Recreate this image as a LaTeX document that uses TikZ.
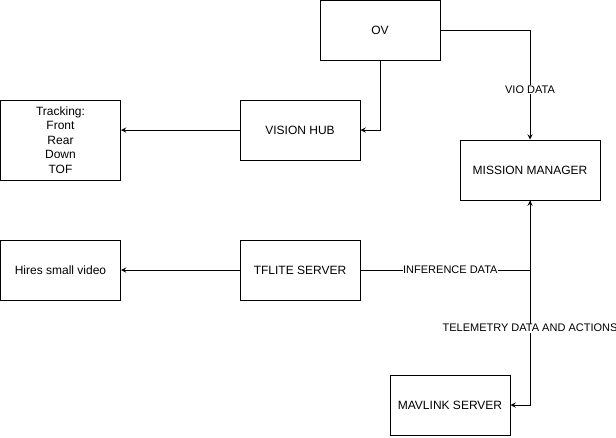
\documentclass[tikz,border=0pt]{standalone}
\usepackage{fontspec}
\setmainfont{Liberation Sans}
\begin{document}
\begin{tikzpicture}[x=0.75pt,y=-0.75pt,line width=0.75pt,
  box/.style={draw,minimum width=90pt,minimum height=45pt,inner sep=0pt,align=center,font=\fontsize{9}{10.9}\selectfont},
  lbl/.style={fill=white,inner sep=0.5pt,font=\fontsize{8.25}{10}\selectfont}]
  \useasboundingbox (0,0) rectangle (616,437);
  \node[box] (ov) at (380,30) {OV};
  \node[box] (hub) at (300,130) {VISION HUB};
  \node[box,minimum height=60pt] (track) at (60.5,140) {Tracking:\\Front\\Rear\\Down\\TOF};
  \node[box,minimum width=105pt] (mm) at (530,170) {MISSION MANAGER};
  \node[box] (tfl) at (300,270) {TFLITE SERVER};
  \node[box] (hires) at (60.5,270) {Hires small video};
  \node[box] (mav) at (450,405) {MAVLINK SERVER};
  \path[-stealth]
    (ov.south) edge[to path={|- (\tikztotarget)}] (hub.east)
    (hub.west) edge (track.east |- hub.west)
    (tfl.west) edge (hires.east);
  \draw[-stealth] (ov.east) -| node[lbl,pos=0.773] {VIO DATA} (mm.north);
  \draw[-stealth] (tfl.east) -| node[lbl,pos=0.265] {INFERENCE DATA} (mm.south);
  \draw[-stealth] (mm.south) |- node[lbl,pos=0.312] {TELEMETRY DATA AND ACTIONS} (mav.east);
\end{tikzpicture}
\end{document}
